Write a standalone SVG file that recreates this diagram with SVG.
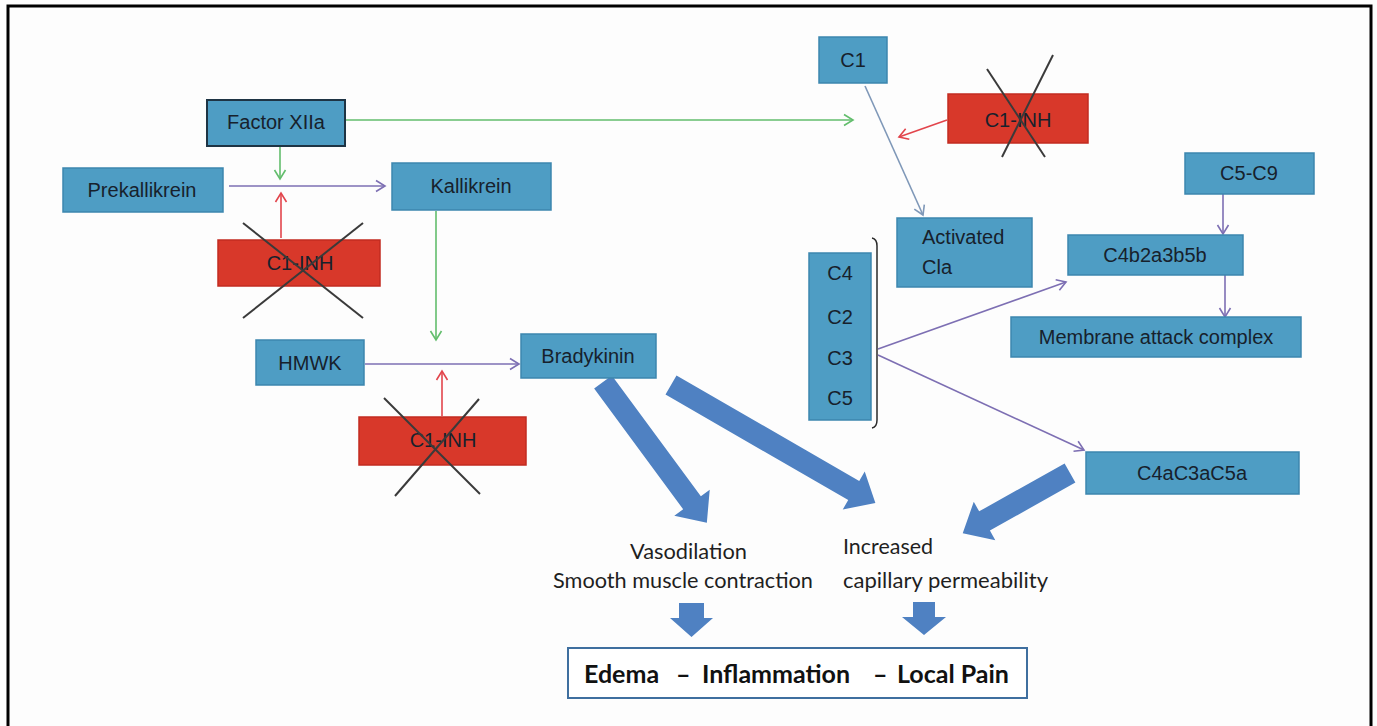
<svg xmlns="http://www.w3.org/2000/svg" width="1377" height="726" viewBox="0 0 1377 726">
<defs>
<style>
.box{fill:#4e9dc4;stroke:#3c86ae;stroke-width:1.5}
.dark{stroke:#1e3444;stroke-width:2}
.inh{fill:#d8382a;stroke:#c22b20;stroke-width:1.5}
.t{font-family:"Liberation Sans",Arial,sans-serif;font-size:20px;fill:#17212c;text-anchor:middle;dominant-baseline:central}
.tl{font-family:"Liberation Sans",Arial,sans-serif;font-size:20px;fill:#17212c;dominant-baseline:central}
.x{stroke:#3a3a3a;stroke-width:2;fill:none}
.g{stroke:#62bd6c;stroke-width:1.6;fill:none}
.p{stroke:#7d6fb3;stroke-width:1.6;fill:none}
.r{stroke:#e2454c;stroke-width:1.6;fill:none}
.s{stroke:#7f98b8;stroke-width:1.6;fill:none}
.blk{fill:#4f81c2}
.lbl{font-family:Lato,"Open Sans",sans-serif;font-size:21px;fill:#1f1f1f;dominant-baseline:central}
.out{font-family:Lato,"Open Sans",sans-serif;font-size:25px;font-weight:bold;fill:#111;dominant-baseline:central}
</style>
<marker id="ag" markerUnits="userSpaceOnUse" markerWidth="14" markerHeight="14" refX="11" refY="7" orient="auto"><path d="M2,1.5 L11,7 L2,12.5" fill="none" stroke="#62bd6c" stroke-width="1.6"/></marker>
<marker id="ap" markerUnits="userSpaceOnUse" markerWidth="14" markerHeight="14" refX="11" refY="7" orient="auto"><path d="M2,1.5 L11,7 L2,12.5" fill="none" stroke="#7d6fb3" stroke-width="1.6"/></marker>
<marker id="ar" markerUnits="userSpaceOnUse" markerWidth="14" markerHeight="14" refX="11" refY="7" orient="auto"><path d="M2,1.5 L11,7 L2,12.5" fill="none" stroke="#e2454c" stroke-width="1.6"/></marker>
<marker id="as" markerUnits="userSpaceOnUse" markerWidth="14" markerHeight="14" refX="11" refY="7" orient="auto"><path d="M2,1.5 L11,7 L2,12.5" fill="none" stroke="#7f98b8" stroke-width="1.6"/></marker>
</defs>
<rect width="1377" height="726" fill="#fdfdfd"/>
<rect x="8" y="6" width="1363" height="760" fill="none" stroke="#000" stroke-width="3"/>

<g id="connectors">
<line class="g" x1="346" y1="120" x2="853" y2="120" marker-end="url(#ag)"/>
<line class="g" x1="280" y1="147" x2="280" y2="179" marker-end="url(#ag)"/>
<line class="p" x1="229" y1="186" x2="385" y2="186" marker-end="url(#ap)"/>
<line class="r" x1="281" y1="238" x2="281" y2="193" marker-end="url(#ar)"/>
<line class="g" x1="436" y1="211" x2="436" y2="340" marker-end="url(#ag)"/>
<line class="p" x1="365" y1="364" x2="519" y2="364" marker-end="url(#ap)"/>
<line class="r" x1="442" y1="416" x2="442" y2="371" marker-end="url(#ar)"/>
<line class="r" x1="947" y1="120" x2="899" y2="137" marker-end="url(#ar)"/>
<line class="s" x1="865" y1="86" x2="923" y2="215" marker-end="url(#as)"/>
<line class="p" x1="1223" y1="194" x2="1223" y2="234" marker-end="url(#ap)"/>
<line class="p" x1="1225" y1="275" x2="1225" y2="317" marker-end="url(#ap)"/>
<path d="M872,238 Q877,239 877,246 L877,420 Q877,427 872,428" fill="none" stroke="#2a2a2a" stroke-width="1.5"/>
<line class="p" x1="878" y1="349" x2="1066" y2="282" marker-end="url(#ap)"/>
<line class="p" x1="878" y1="355" x2="1084" y2="450" marker-end="url(#ap)"/>
<g id="block-arrows" class="blk">
<polygon transform="translate(603,382) rotate(53.6)" points="0,-11 150,-11 150,-22 175,0 150,22 150,11 0,11"/>
<polygon transform="translate(671,385) rotate(30)" points="0,-11 211,-11 211,-22 236,0 211,22 211,11 0,11"/>
<polygon transform="translate(1070,473) rotate(150.7)" points="0,-11 98,-11 98,-22 123,0 98,22 98,11 0,11"/>
<polygon points="679,603 704,603 704,618 713,618 691.5,637 670,618 679,618"/>
<polygon points="913,602 935,602 935,617 946,617 924,635 902,617 913,617"/>
</g>
</g>

<g id="factor-xiia"><rect class="box dark" x="207" y="100" width="138" height="46"/><text class="t" x="276" y="122">Factor XIIa</text></g>
<g id="prekallikrein"><rect class="box" x="63" y="168" width="160" height="44"/><text class="t" x="142" y="190">Prekallikrein</text></g>
<g id="kallikrein"><rect class="box" x="392" y="163" width="159" height="47"/><text class="t" x="471" y="186">Kallikrein</text></g>
<g id="c1inh-1"><rect class="inh" x="218" y="240" width="162" height="46"/><text class="t" x="300" y="263">C1-INH</text>
<line class="x" x1="243" y1="223" x2="363" y2="318"/><line class="x" x1="363" y1="223" x2="243" y2="318"/></g>
<g id="hmwk"><rect class="box" x="256" y="340" width="108" height="45"/><text class="t" x="310" y="363">HMWK</text></g>
<g id="bradykinin"><rect class="box" x="521" y="334" width="135" height="44"/><text class="t" x="588" y="356">Bradykinin</text></g>
<g id="c1inh-3"><rect class="inh" x="359" y="417" width="167" height="48"/><text class="t" x="443" y="440">C1-INH</text>
<line class="x" x1="384" y1="398" x2="480" y2="494"/><line class="x" x1="479" y1="399" x2="395" y2="496"/></g>
<g id="c1"><rect class="box" x="819" y="37" width="68" height="46"/><text class="t" x="853" y="60">C1</text></g>
<g id="c1inh-2"><rect class="inh" x="948" y="94" width="140" height="49"/><text class="t" x="1018" y="120">C1-INH</text>
<line class="x" x1="987" y1="69" x2="1045" y2="157"/><line class="x" x1="1053" y1="55" x2="1002" y2="157"/></g>
<g id="activated-cla"><rect class="box" x="897" y="218" width="135" height="69"/><text class="tl" x="922" y="237">Activated</text><text class="tl" x="922" y="267">Cla</text></g>
<g id="c5-c9"><rect class="box" x="1185" y="153" width="129" height="41"/><text class="t" x="1249" y="173">C5-C9</text></g>
<g id="c4b2a3b5b"><rect class="box" x="1068" y="235" width="175" height="40"/><text class="t" x="1155" y="255">C4b2a3b5b</text></g>
<g id="mac"><rect class="box" x="1011" y="317" width="290" height="40"/><text class="t" x="1156" y="337">Membrane attack complex</text></g>
<g id="c4-c2-c3-c5"><rect class="box" x="809" y="253" width="62" height="167"/>
<text class="t" x="840" y="273">C4</text><text class="t" x="840" y="317">C2</text><text class="t" x="840" y="358">C3</text><text class="t" x="840" y="398">C5</text></g>
<g id="c4ac3ac5a"><rect class="box" x="1086" y="452" width="213" height="42"/><text class="t" x="1192" y="473">C4aC3aC5a</text></g>

<g id="vasodilation"><text class="lbl" x="630" y="550" textLength="117" lengthAdjust="spacingAndGlyphs">Vasodilation</text><text class="lbl" x="553" y="579" textLength="260" lengthAdjust="spacingAndGlyphs">Smooth muscle contraction</text></g>
<g id="permeability"><text class="lbl" x="843" y="545" textLength="90" lengthAdjust="spacingAndGlyphs">Increased</text><text class="lbl" x="843" y="579" textLength="205" lengthAdjust="spacingAndGlyphs">capillary permeability</text></g>
<g id="outcome"><rect x="568" y="648" width="459" height="50" fill="#fff" stroke="#3f6f9f" stroke-width="2"/>
<text class="out" y="673"><tspan x="584">Edema</tspan><tspan x="676">–</tspan><tspan x="702">Inflammation</tspan><tspan x="873">–</tspan><tspan x="897">Local Pain</tspan></text></g>
</svg>
